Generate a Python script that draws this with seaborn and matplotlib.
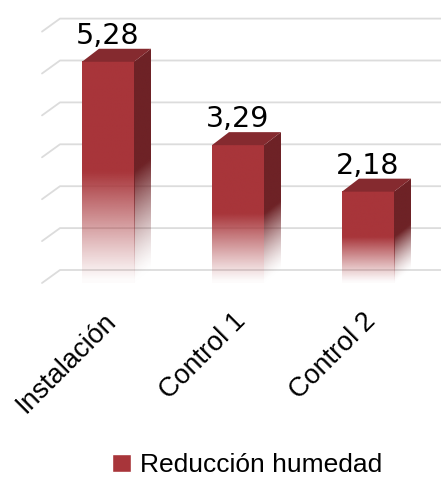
import numpy as np
import pandas as pd
import seaborn as sns
import matplotlib.pyplot as plt
import matplotlib.transforms as mtransforms
from matplotlib.patches import Polygon, Patch
from matplotlib.colors import to_rgb

# Data
categorias = ['Instalación', 'Control 1', 'Control 2']
valores = [5.28, 3.29, 2.18]
etiquetas = ['5,28', '3,29', '2,18']
serie = 'Reducción humedad'

# Colors
rojo = '#A8353A'
rojo_lado = '#6E2226'
rojo_tapa = '#852A2F'
gris = '#DCDCDC'

df = pd.DataFrame({'categoria': categorias, 'valor': valores})

sns.set_style('white')
plt.rcParams['font.family'] = ['DejaVu Sans']
plt.rcParams['text.color'] = 'black'
plt.rcParams['xtick.color'] = 'black'
narrow = ['Liberation Sans', 'DejaVu Sans']

W, H = 441, 480
fig = plt.figure(figsize=(W / 100, H / 100), dpi=100)
ax = fig.add_axes([42 / W, (H - 283) / H, (W - 42) / W, (283 - 10) / H])

sns.barplot(data=df, x='categoria', y='valor', width=0.4, color=rojo, ax=ax, zorder=3)

xmin, xmax = (42 - 108) / 130, (441 - 108) / 130
ymax = 273 / 41.9
dx, dy = 17 / 130, 13 / 41.9


def perfil(f):
    return np.clip(f / 0.5, 0.03, 1) ** 1.1


# 3D-looking gridlines (back wall)
for k in range(7):
    ax.plot([xmin, (60 - 108) / 130, xmax], [k, k + dy, k + dy],
            color=gris, lw=1.3, zorder=1, clip_on=False)

for p, txt in zip(list(ax.patches), etiquetas):
    x0, w, h = p.get_x(), p.get_width(), p.get_height()
    x1 = x0 + w
    p.set_facecolor('none')
    p.set_edgecolor('none')

    # front face with fade to white
    n = 300
    f = np.linspace(0, 1, n)
    img = np.zeros((n, 1, 4))
    img[:, 0, :3] = to_rgb(rojo)
    img[:, 0, 3] = perfil(f)
    ax.imshow(img, extent=(x0, x1, 0, h), origin='lower', aspect='auto',
              zorder=3, interpolation='bilinear')

    # side face
    pts = [(x1, 0), (x1 + dx, dy), (x1 + dx, h + dy), (x1, h)]
    lado = Polygon(pts, closed=True, facecolor='none', edgecolor='none')
    ax.add_patch(lado)
    nx, ny = 40, 300
    xx, yy = np.meshgrid(np.linspace(x1, x1 + dx, nx), np.linspace(0, h + dy, ny))
    base = (xx - x1) / dx * dy
    frac = (yy - base) / h
    img2 = np.zeros((ny, nx, 4))
    img2[..., :3] = to_rgb(rojo_lado)
    img2[..., 3] = perfil(frac) ** 1.3
    im = ax.imshow(img2, extent=(x1, x1 + dx, 0, h + dy), origin='lower',
                   aspect='auto', zorder=3, interpolation='bilinear')
    im.set_clip_path(lado)

    # top face
    ax.add_patch(Polygon([(x0, h), (x0 + dx, h + dy), (x1 + dx, h + dy), (x1, h)],
                         closed=True, facecolor=rojo_tapa, edgecolor='none', zorder=4))

    ax.text(x0 + w / 2, h + dy + 0.12, txt, ha='center', va='baseline',
            fontsize=20.5, color='black')

ax.set_xlim(xmin, xmax)
ax.set_ylim(0, ymax)
ax.set_yticks([])
ax.set_xlabel('')
ax.set_ylabel('')
sns.despine(ax=ax, left=True, bottom=True)
ax.tick_params(axis='x', length=0, pad=18)
ax.set_xticks(range(len(categorias)))
ax.set_xticklabels(categorias, rotation=45, ha='right', va='top',
                   rotation_mode='anchor', fontsize=19.5, family=narrow)
offset = mtransforms.ScaledTranslation(-5 / 100, 0, fig.dpi_scale_trans)
for lab in ax.get_xticklabels():
    lab.set_transform(lab.get_transform() + offset)

fig.legend(handles=[Patch(facecolor=rojo)], labels=[serie], loc='center',
           bbox_to_anchor=(247 / W, 1 - 465 / H), frameon=False,
           prop={'family': narrow, 'size': 19}, handlelength=0.72,
           handleheight=0.7, handletextpad=0.35)

fig.savefig('out.png', dpi=100)
